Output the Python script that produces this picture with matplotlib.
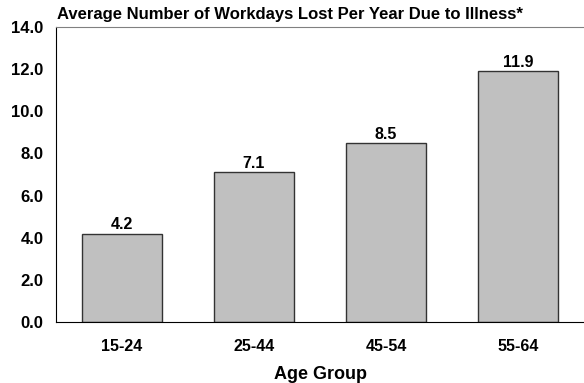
import matplotlib.pyplot as plt

age_groups = ['15-24', '25-44', '45-54', '55-64']
days_lost = [4.2, 7.1, 8.5, 11.9]
y_ticks = [0, 2, 4, 6, 8, 10, 12, 14]

plt.rcParams['font.family'] = ['Liberation Sans', 'DejaVu Sans']
plt.rcParams['font.weight'] = 'bold'

fig = plt.figure(figsize=(5.84, 3.83), dpi=100)
ax = fig.add_axes([56 / 584, 61 / 383, 528 / 584, 295 / 383])

x = range(len(age_groups))
bars = ax.bar(x, days_lost, width=0.6, color='#c0c0c0', edgecolor='#333333', linewidth=1.0)
for b, v in zip(bars, days_lost):
    ax.text(b.get_x() + b.get_width() / 2, v + 0.05, f'{v:.1f}', ha='center', va='bottom',
            fontsize=11.5, fontweight='bold')

ax.set_xlim(-0.5, 3.5)
ax.set_ylim(0, 14)
ax.set_yticks(y_ticks)
ax.set_yticklabels([f'{t:.1f}' for t in y_ticks], fontsize=12, fontweight='bold')
ax.set_xticks(list(x))
ax.set_xticklabels(age_groups, fontsize=11.5, fontweight='bold')
ax.tick_params(axis='y', length=0, pad=9)
ax.tick_params(axis='x', length=0, pad=12)

ax.spines['right'].set_visible(False)
ax.spines['top'].set_color('#808080')
ax.spines['left'].set_color('black')
ax.spines['bottom'].set_color('black')

ax.set_xlabel('Age Group', fontsize=13, fontweight='bold', labelpad=9)
fig.text(57 / 584, 1 - 14 / 383, 'Average Number of Workdays Lost Per Year Due to Illness*',
         ha='left', va='center', fontsize=12, fontweight='bold')

fig.savefig('out.png', dpi=100)
